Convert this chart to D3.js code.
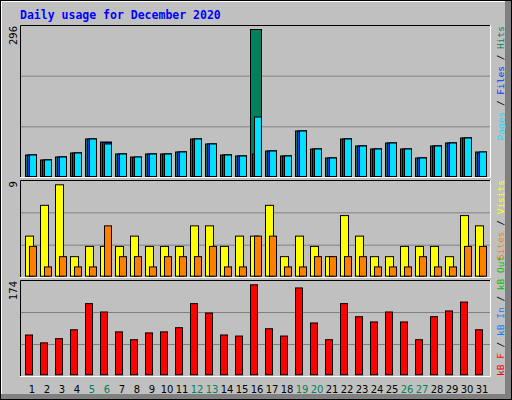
<!DOCTYPE html>
<html><head><meta charset="utf-8">
<script src="https://cdn.jsdelivr.net/npm/d3@7/dist/d3.min.js"></script>
<style>body{margin:0;background:#fff}</style>
</head><body><svg id="c" width="512" height="400"></svg>
<script>
const days = d3.range(1, 32);
const weekends = [5, 6, 12, 13, 19, 20, 26, 27];
const hits  = [45,35,41,49,77,71,47,41,47,47,51,77,67,45,43,296,53,43,93,57,39,77,63,57,69,57,39,63,69,79,51];
const files = [45,35,41,49,77,70,47,40,47,47,51,77,67,45,43,47,53,43,93,57,39,77,63,57,69,57,39,63,69,79,50];
const pages = [45,35,41,49,77,67,47,41,47,47,51,77,67,45,43,121,53,43,93,57,39,77,63,57,69,57,39,63,69,79,51];
const visits = [4,7,9,2,3,3,3,4,3,3,3,5,5,3,4,4,7,2,4,3,2,6,4,2,2,3,3,3,2,6,5];
const sites  = [3,1,2,1,1,5,2,2,1,2,2,2,3,1,1,4,4,1,1,2,2,2,2,1,1,1,2,1,1,3,3];
const kbytes = [78,63,71,88,138,122,84,69,82,84,92,138,120,78,76,174,90,76,168,101,69,138,113,103,122,103,69,113,124,141,88];
const maxTop = 296, maxMid = 9, maxBot = 174;

const svg = d3.select("#c");
const mono = "'DejaVu Sans Mono', monospace";
svg.append("rect").attr("width",512).attr("height",400).attr("fill","#c0c0c0");
svg.append("rect").attr("x",0.5).attr("y",0.5).attr("width",511).attr("height",399).attr("fill","none").attr("stroke","#000");
svg.append("path").attr("d","M1.5,398V1.5H510").attr("stroke","#fff").attr("fill","none");
svg.append("rect").attr("x",505).attr("y",1).attr("width",6).attr("height",398).attr("fill","#808080");
svg.append("rect").attr("x",1).attr("y",394).attr("width",510).attr("height",5).attr("fill","#808080");

svg.append("text").attr("x",20).attr("y",19).attr("font-family",mono).attr("font-weight","bold")
  .attr("font-size","11.5px").attr("fill","#0000ff").text("Daily usage for December 2020");

const x = d3.scaleLinear().domain([1,31]).range([25,475]);
const L = 20, R = 490;
const panels = [
  {t:25,b:177,y:d3.scaleLinear().domain([0,maxTop]).range([177,29]),lab:maxTop},
  {t:180,b:277,y:d3.scaleLinear().domain([0,maxMid]).range([276.7,184.3]),lab:maxMid},
  {t:280,b:376,y:d3.scaleLinear().domain([0,maxBot]).range([375.3,284.3]),lab:maxBot}
];
panels.forEach(p=>{
  svg.append("rect").attr("x",L).attr("y",p.t).attr("width",R-L).attr("height",p.b-p.t).attr("fill","#c0c0c0");
  svg.append("path").attr("d",`M${L+0.5},${p.b}V${p.t+0.5}H${R}`).attr("stroke","#000").attr("fill","none");
  svg.append("path").attr("d",`M${L},${p.b+0.5}H${R+0.5}V${p.t}`).attr("stroke","#fff").attr("fill","none");
  const h = p.b-p.t;
  [1,2].forEach(k=>svg.append("line").attr("x1",L+1).attr("x2",R).attr("y1",p.t+k*h/3+0.5).attr("y2",p.t+k*h/3+0.5).attr("stroke","#808080"));
  svg.append("text").attr("transform",`translate(17,${p.t+1}) rotate(-90)`).attr("text-anchor","end")
    .attr("font-family","'DejaVu Sans', sans-serif").attr("font-size","10px").attr("fill","#000").text(p.lab);
});

function bars(data, y, off, w, color){
  svg.append("g").selectAll("rect").data(data).join("rect")
    .attr("x",(d,i)=>x(days[i])+off+0.5).attr("width",w)
    .attr("y",d=>y(d)+0.5).attr("height",d=>Math.max(0,y(0)-y(d)-1))
    .attr("fill",color).attr("stroke","#000").attr("stroke-width",1);
}
bars(hits, panels[0].y, 0, 11, "#00805c");
bars(files, panels[0].y, 2, 9, "#0040ff");
bars(pages, panels[0].y, 4, 7, "#00e0ff");
bars(visits, panels[1].y, 0, 8, "#ffff00");
bars(sites, panels[1].y, 4, 7, "#ff8000");
bars(kbytes, panels[2].y, 0, 7, "#ff0000");

svg.append("g").selectAll("text").data(days).join("text")
  .attr("x",d=>x(d)+7).attr("y",393).attr("text-anchor","middle")
  .attr("font-family","'DejaVu Sans', sans-serif").attr("font-size","10px")
  .attr("fill",d=>weekends.includes(d)?"#00805c":"#000").text(d=>d);

function vlabel(yPos, anchor, parts){
  const t = svg.append("text").attr("transform",`translate(504,${yPos}) rotate(-90)`)
    .attr("text-anchor",anchor).attr("font-family",mono).attr("font-size","9.5px");
  parts.forEach(([s,c])=>t.append("tspan").attr("fill",c).text(s));
}
vlabel(26,"end",[["Pages","#00e0ff"],[" / ","#000"],["Files","#0040ff"],[" / ","#000"],["Hits","#00805c"]]);
vlabel(180,"end",[["Sites","#ff8000"],[" / ","#000"],["Visits","#ffff00"]]);
vlabel(376,"start",[["kB F","#ff0000"],[" / ","#000"],["kB In","#0080ff"],[" / ","#000"],["kB Out","#00c000"]]);
</script></body></html>
